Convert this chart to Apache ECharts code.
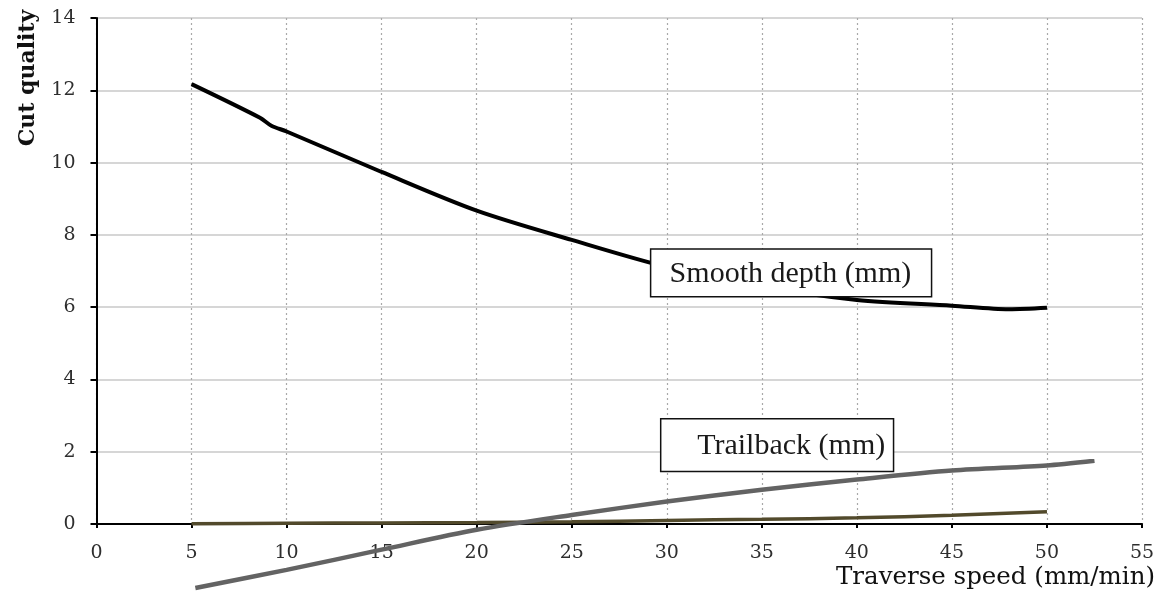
<!DOCTYPE html>
<html>
<head>
<meta charset="utf-8">
<script src="https://cdn.jsdelivr.net/npm/echarts@6/dist/echarts.min.js"></script>
<style>
html,body{margin:0;padding:0;background:#fff;}
#chart{width:1160px;height:594px;}
</style>
</head>
<body>
<div id="chart"></div>
<script>
// Traverse speed (mm/min) and cut quality values
var smoothSpeed = [5, 8.6, 9.2, 10, 15, 20, 25, 30, 35, 40, 45, 48, 50];
var smoothDepth = [12.17, 11.24, 11.02, 10.86, 9.74, 8.67, 7.86, 7.11, 6.57, 6.2, 6.04, 5.94, 5.98];

var trailSpeed = [5.2, 10, 15, 20, 25, 30, 35, 40, 45, 50, 52.5];
var trailback = [-1.77, -1.27, -0.71, -0.16, 0.25, 0.62, 0.95, 1.23, 1.48, 1.62, 1.75];

var thirdSpeed = [5, 10, 15, 20, 25, 30, 35, 40, 45, 50];
var thirdValues = [0.01, 0.02, 0.03, 0.04, 0.06, 0.1, 0.13, 0.17, 0.24, 0.34];

var xTicks = [0, 5, 10, 15, 20, 25, 30, 35, 40, 45, 50, 55];
var yTicks = [0, 2, 4, 6, 8, 10, 12, 14];

var seriesLabels = ['Smooth depth (mm)', 'Trailback (mm)'];
var xAxisName = 'Traverse speed (mm/min)';
var yAxisName = 'Cut quality';

function pairs(xs, ys) { return xs.map(function (x, i) { return [x, ys[i]]; }); }

var chart = echarts.init(document.getElementById('chart'), null, {renderer: 'canvas'});
var tickFont = 'DejaVu Serif';
chart.setOption({
  animation: false,
  backgroundColor: '#ffffff',
  grid: {left: 96.5, right: 18, top: 18, bottom: 70, containLabel: false},
  xAxis: {
    type: 'value', min: xTicks[0], max: xTicks[xTicks.length - 1], interval: 5,
    axisLine: {show: true, onZero: false, lineStyle: {color: '#000', width: 2}},
    axisTick: {show: true, length: 4, lineStyle: {color: '#000', width: 2}},
    axisLabel: {margin: 20, color: '#2e2e2e', fontFamily: tickFont, fontSize: 19},
    splitLine: {show: true, lineStyle: {color: '#a9a9a9', width: 1.2, type: [2, 3]}}
  },
  yAxis: {
    type: 'value', min: yTicks[0], max: yTicks[yTicks.length - 1], interval: 2,
    axisLine: {show: true, lineStyle: {color: '#000', width: 2}},
    axisTick: {show: true, length: 6, lineStyle: {color: '#000', width: 2}},
    axisLabel: {margin: 21, color: '#2e2e2e', fontFamily: tickFont, fontSize: 19},
    splitLine: {show: true, lineStyle: {color: '#c8c8c8', width: 1.5}}
  },
  series: [
    {
      name: seriesLabels[0], type: 'line', data: pairs(smoothSpeed, smoothDepth),
      showSymbol: false, smooth: 0.3, clip: false, z: 5,
      lineStyle: {color: '#000', width: 4}
    },
    {
      name: seriesLabels[1], type: 'line', data: pairs(trailSpeed, trailback),
      showSymbol: false, smooth: 0.3, clip: false, z: 4,
      lineStyle: {color: '#636363', width: 4.5}
    },
    {
      name: 'series 3', type: 'line', data: pairs(thirdSpeed, thirdValues),
      showSymbol: false, smooth: 0.3, clip: false, z: 3,
      lineStyle: {color: '#524a2c', width: 3.5}
    }
  ]
});

function px(x, y) { return chart.convertToPixel({gridIndex: 0}, [x, y]); }
function box(x0, y0, x1, y1, label, textX) {
  var a = px(x0, y0), b = px(x1, y1);
  return {
    type: 'group', z: 100,
    children: [
      {type: 'rect', z: 100, shape: {x: a[0], y: a[1], width: b[0] - a[0], height: b[1] - a[1]},
       style: {fill: '#fff', stroke: '#111', lineWidth: 1.5}},
      {type: 'text', z: 101, x: px(textX, 0)[0], y: (a[1] + b[1]) / 2 + 1,
       style: {text: label, fill: '#1a1a1a', font: '30px "Liberation Serif"', textAlign: 'left', textVerticalAlign: 'middle'}}
    ]
  };
}
chart.setOption({
  graphic: [
    box(29.15, 7.61, 43.93, 6.29, seriesLabels[0], 30.15),
    box(29.68, 2.91, 41.93, 1.45, seriesLabels[1], 31.6),
    {type: 'text', z: 100, x: 28, y: 78, rotation: Math.PI / 2,
     style: {text: yAxisName, fill: '#111', font: 'bold 22px "DejaVu Serif"', textAlign: 'center', textVerticalAlign: 'middle'}},
    {type: 'text', z: 100, x: 1155, y: 578,
     style: {text: xAxisName, fill: '#111', font: '24.5px "DejaVu Serif"', textAlign: 'right', textVerticalAlign: 'middle'}}
  ]
});
</script>
</body>
</html>
